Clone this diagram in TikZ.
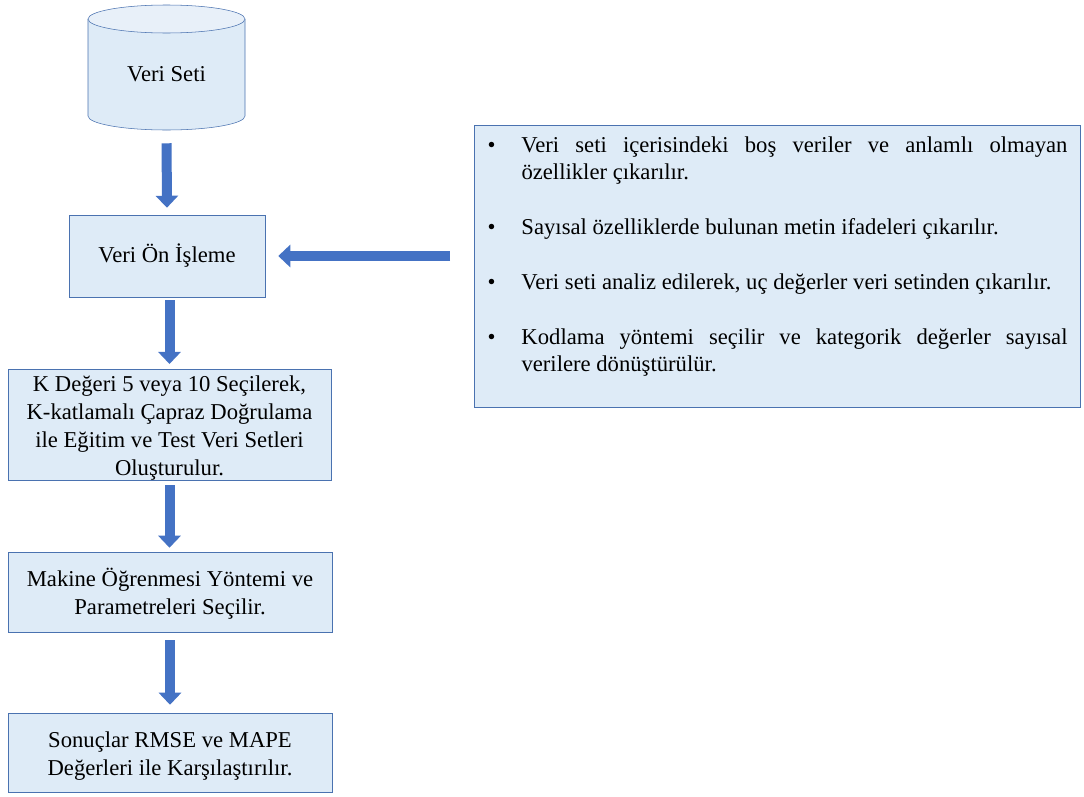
\documentclass[tikz,border=0pt]{standalone}
\usepackage{fontspec}
\setmainfont{Liberation Serif}
\usetikzlibrary{arrows.meta}
\definecolor{boxfill}{HTML}{DEEBF7}
\definecolor{dbtop}{HTML}{E8F0F9}
\definecolor{boxline}{HTML}{4A72B0}
\definecolor{flowblue}{HTML}{4472C4}

\newcommand{\bitem}[1]{\noindent\hangindent=25.5pt\hangafter=1\makebox[25.5pt][l]{•}#1\par}

\begin{document}
\begin{tikzpicture}[x=0.75pt, y=0.75pt,
    box/.style={draw=boxline, fill=boxfill, align=center, inner sep=0pt,
                font=\fontsize{17}{21}\selectfont},
    dbtext/.style={minimum width=117.75pt, minimum height=84pt, inner sep=0pt,
                font=\fontsize{17}{21}\selectfont},
    blk/.style={draw=flowblue, line width=7.5pt, -{Triangle[width=16.5pt, length=9pt]}}
  ]
    \useasboundingbox (0,0) rectangle (1084,-796);

    % veri tabani silindiri
    \fill[boxfill] (88,-19) -- (88,-116) arc[start angle=180, end angle=360, x radius=78.5, y radius=14] -- (245,-19) -- cycle;
    \draw[boxline] (88,-19) -- (88,-116) arc[start angle=180, end angle=360, x radius=78.5, y radius=14] -- (245,-19);
    \draw[boxline, fill=dbtop] (166.5,-19) ellipse [x radius=78.5, y radius=14];
    \node[dbtext] (db) at (166.5,-74) {Veri Seti};

    \node[box, minimum width=147pt, minimum height=61.5pt] (pre) at (167,-256) {Veri Ön İşleme};
    \node[box, minimum width=242.25pt, minimum height=83.25pt] (kfold) at (169.5,-425)
      {\rule{0pt}{17pt}K Değeri 5 veya 10 Seçilerek,\\K-katlamalı Çapraz Doğrulama\\ile Eğitim ve Test Veri Setleri\\Oluşturulur.};
    \node[box, minimum width=243pt, minimum height=60pt] (ml) at (170,-592)
      {\rule{0pt}{17pt}Makine Öğrenmesi Yöntemi ve\\Parametreleri Seçilir.};
    \node[box, minimum width=243pt, minimum height=59.25pt] (res) at (170,-752.5)
      {\rule{0pt}{17pt}Sonuçlar RMSE ve MAPE\\Değerleri ile Karşılaştırılır.};

    \node[box, align=justify, text width=435pt, minimum width=453.75pt, minimum height=211.5pt,
          inner xsep=9.75pt, font=\fontsize{17}{20.6}\selectfont] (info) at (777.5,-266)
      {\bitem{Veri seti içerisindeki boş veriler ve anlamlı olmayan\linebreak özellikler çıkarılır.}
       \vspace{20.6pt}
       \bitem{Sayısal özelliklerde bulunan metin ifadeleri çıkarılır.}
       \vspace{20.6pt}
       \bitem{Veri seti analiz edilerek, uç değerler veri setinden çıkarılır.}
       \vspace{20.6pt}
       \bitem{Kodlama yöntemi seçilir ve kategorik değerler sayısal\linebreak verilere dönüştürülür.}
       \vskip 14pt\hrule height 0pt width 0pt};

    \draw[blk, shorten <=9.75pt, shorten >=5.25pt] (db.south) -- (pre.north);
    \draw[blk, shorten <=2.25pt, shorten >=3.75pt] (kfold.north |- pre.south) -- (kfold.north);
    \draw[blk, shorten <=3pt, shorten >=3pt] (kfold.south) -- (kfold.south |- ml.north);
    \draw[blk, shorten <=6pt, shorten >=6pt] (ml.south) -- (res.north);
    \draw[blk, shorten <=18pt, shorten >=9.75pt] (info.west |- pre.east) -- (pre.east);
  \end{tikzpicture}
\end{document}
